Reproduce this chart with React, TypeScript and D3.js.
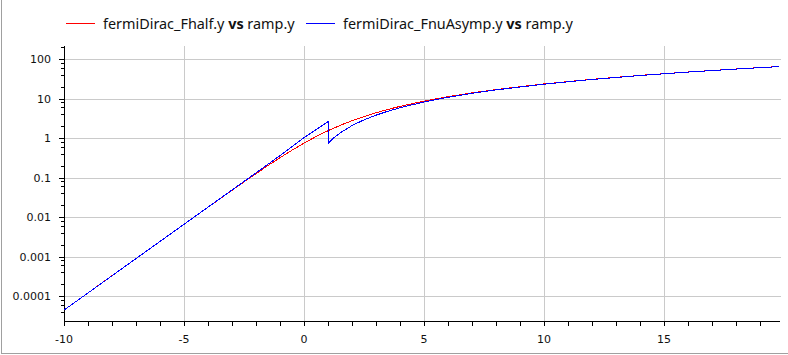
import * as d3 from "d3";
import React, { useRef, useEffect } from "react";

// ramp.y values and the two curves
const rampRed = [-10, -8, -6, -4, -3, -2.5, -2, -1.5, -1, -0.5, 0, 0.5, 1, 1.5, 2, 2.5, 3, 3.5, 4, 5, 6, 7, 8, 10, 12, 14, 16, 18, 19.8];
const fHalf = [4.54e-5, 3.354e-4, 2.477e-3, 0.0182, 0.0489, 0.0798, 0.1293, 0.2074, 0.3278, 0.5075, 0.7652, 1.118, 1.5776, 2.148, 2.826, 3.602, 4.488, 5.46, 6.512, 8.847, 11.45, 14.28, 17.35, 24.08, 31.54, 39.66, 48.38, 57.67, 66.49];

const rampBlue = [-10, -8, -6, -4, -3, -2, -1, -0.5, 0, 0.5, 1, 1, 1.25, 1.5, 2, 2.5, 3, 3.5, 4, 5, 6, 7, 8, 10, 12, 14, 16, 18, 19.8];
const fnuAsymp = [4.54e-5, 3.35e-4, 2.48e-3, 0.0183, 0.0498, 0.135, 0.37, 0.62, 1.05, 1.68, 2.68, 0.752, 1.05, 1.382, 2.128, 2.974, 3.909, 4.926, 6.018, 8.411, 11.06, 13.93, 17.02, 23.79, 31.27, 39.41, 48.14, 57.45, 66.28];

const xMajor = [-10, -5, 0, 5, 10, 15];
const yMajor = [0.0001, 0.001, 0.01, 0.1, 1, 10, 100];
const yLabels = ["0.0001", "0.001", "0.01", "0.1", "1", "10", "100"];

const legend = [
    { name: "fermiDirac_Fhalf.y", color: "#ff0000" },
    { name: "fermiDirac_FnuAsymp.y", color: "#0000ff" },
];

function App() {
    const ref = useRef(null);
    const width = 788;
    const height = 355;
    const margin = { top: 46, right: 8, bottom: 34, left: 64 };

    useEffect(() => {
        const svg = d3.select(ref.current);
        svg.selectAll("*").remove();

        const x = d3
            .scaleLinear()
            .domain([-10, 19.83])
            .range([margin.left, width - margin.right]);
        const y = d3
            .scaleLog()
            .domain([2.4e-5, 220])
            .range([height - margin.bottom, margin.top]);

        // window frame
        svg.append("line")
            .attr("x1", 1.5).attr("x2", 1.5)
            .attr("y1", 0).attr("y2", 354)
            .attr("stroke", "#a0a0a0");
        svg.append("line")
            .attr("x1", 1).attr("x2", width)
            .attr("y1", 353.5).attr("y2", 353.5)
            .attr("stroke", "#a0a0a0");

        // grid
        const grid = svg.append("g").attr("stroke", "#cacaca").attr("shape-rendering", "crispEdges");
        xMajor.slice(1).forEach((v) => {
            grid.append("line")
                .attr("x1", x(v)).attr("x2", x(v))
                .attr("y1", margin.top).attr("y2", height - margin.bottom);
        });
        yMajor.forEach((v) => {
            grid.append("line")
                .attr("x1", margin.left).attr("x2", x(19.83) + 1)
                .attr("y1", y(v)).attr("y2", y(v));
        });

        // axes
        const axes = svg.append("g").attr("stroke", "#000").attr("shape-rendering", "crispEdges");
        axes.append("line")
            .attr("x1", margin.left).attr("x2", margin.left)
            .attr("y1", margin.top).attr("y2", height - margin.bottom + 5);
        axes.append("line")
            .attr("x1", margin.left).attr("x2", width - margin.right)
            .attr("y1", height - margin.bottom).attr("y2", height - margin.bottom);

        d3.range(-10, 20).forEach((v) => {
            axes.append("line")
                .attr("x1", x(v)).attr("x2", x(v))
                .attr("y1", height - margin.bottom).attr("y2", height - margin.bottom + 5);
        });

        const [y0, y1] = y.domain();
        y.ticks(100)
            .filter((v) => {
                const m = Math.round(v / Math.pow(10, Math.floor(Math.log10(v) + 1e-9)));
                return [1, 2, 4, 6, 8].includes(m) && v >= y0 && v <= y1;
            })
            .forEach((v) => {
                const m = Math.round(v / Math.pow(10, Math.floor(Math.log10(v) + 1e-9)));
                axes.append("line")
                    .attr("x1", margin.left - (m === 1 ? 5 : 3)).attr("x2", margin.left)
                    .attr("y1", y(v)).attr("y2", y(v));
            });

        const labels = svg.append("g")
            .attr("font-family", "'DejaVu Sans', sans-serif")
            .attr("font-size", 11)
            .attr("fill", "#111");
        xMajor.forEach((v) => {
            labels.append("text")
                .attr("x", x(v)).attr("y", height - 12)
                .attr("text-anchor", "middle")
                .text(v);
        });
        yMajor.forEach((v, i) => {
            labels.append("text")
                .attr("x", margin.left - 13).attr("y", y(v))
                .attr("dy", "0.36em")
                .attr("text-anchor", "end")
                .text(yLabels[i]);
        });

        // curves
        const line = d3
            .line()
            .x((d) => x(d[0]))
            .y((d) => y(d[1]));

        const series = [
            { xs: rampRed, ys: fHalf, color: legend[0].color },
            { xs: rampBlue, ys: fnuAsymp, color: legend[1].color },
        ];
        series.forEach((s) => {
            svg.append("path")
                .datum(s.xs.map((v, i) => [v, s.ys[i]]))
                .attr("d", line)
                .attr("fill", "none")
                .attr("stroke", s.color)
                .attr("stroke-width", 1)
                .attr("shape-rendering", "crispEdges");
        });

        // legend
        const lg = svg.append("g")
            .attr("font-family", "'Noto Sans', sans-serif")
            .attr("font-size", 14.4)
            .attr("fill", "#111");
        const legendX = [66, 306];
        legend.forEach((item, i) => {
            lg.append("line")
                .attr("x1", legendX[i]).attr("x2", legendX[i] + 29)
                .attr("y1", 23.5).attr("y2", 23.5)
                .attr("stroke", item.color);
            const t = lg.append("text")
                .attr("x", legendX[i] + 37).attr("y", 28.5);
            t.append("tspan").text(item.name + " ");
            t.append("tspan").attr("font-weight", "bold").text("vs");
            t.append("tspan").text(" ramp.y");
        });
    }, []);

    return (
        <svg
            ref={ref}
            width={width}
            height={height}
            style={{ position: "absolute", left: 0, top: 0, background: "#fff" }}
        ></svg>
    );
}

export default App;
